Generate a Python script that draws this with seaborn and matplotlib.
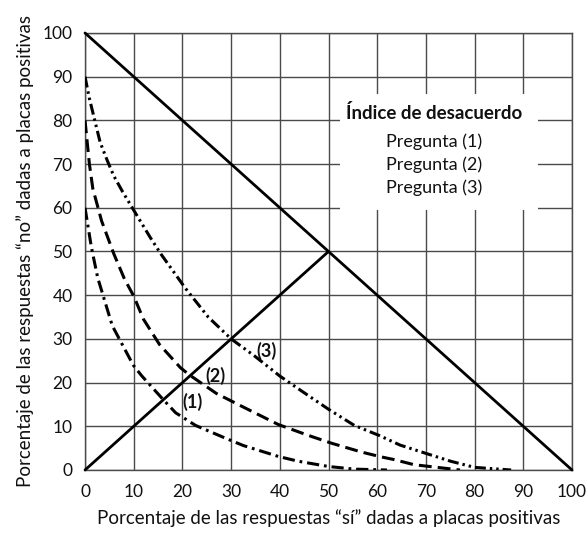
import matplotlib
matplotlib.use("Agg")
import matplotlib.pyplot as plt
import seaborn as sns
import pandas as pd
from matplotlib.patches import Rectangle

# ---- data ----
q1_x = [0, 1.3, 2.6, 3.8, 5.6, 9.9, 11.6, 15.9, 18.6, 22.7, 29, 32.5, 39.7, 43.8, 50, 55.3, 62]
q1_y = [60, 51, 44, 39.6, 33, 24, 21.6, 16.3, 13.1, 10.2, 7.2, 5.6, 3.1, 2.0, 0.8, 0.2, 0]

q2_x = [0, 0.9, 1.6, 3.4, 5.9, 8.1, 10, 12, 15.3, 19.6, 21.5, 27, 32.5, 39.7, 45.9, 50.7, 56.8, 60.8, 63.4, 67.6, 70, 77]
q2_y = [80, 70, 64.4, 57, 49.5, 43.7, 39.8, 34.5, 28.7, 23.4, 21.7, 17.5, 14.4, 10.4, 7.9, 6.1, 4.1, 3.0, 2.4, 1.2, 0.9, 0]

q3_x = [0, 0.9, 2, 3.1, 4.5, 5.9, 7.7, 9.7, 13.4, 15.6, 20.6, 25.3, 30, 34.8, 40, 45.1, 50, 55.3, 60.4, 64.7, 70, 75.1, 80, 87.5]
q3_y = [90, 85, 80, 75, 71, 67.3, 63.7, 60, 53.2, 49.4, 41.6, 35, 30, 26.1, 21.5, 17.6, 13.9, 10.2, 7.9, 5.7, 3.8, 2.0, 0.6, 0]

diag_x = [0, 100]
diag_y = [100, 0]
bis_x = [0, 50]
bis_y = [0, 50]

series_names = ["Pregunta (1)", "Pregunta (2)", "Pregunta (3)"]
curve_labels = ["(1)", "(2)", "(3)"]
curve_label_x = [22, 26.8, 37.3]
curve_label_y = [15.5, 21.5, 27.2]

ticks = list(range(0, 101, 10))
legend_title = "Índice de desacuerdo"
xlabel = "Porcentaje de las respuestas “sí” dadas a placas positivas"
ylabel = "Porcentaje de las respuestas “no” dadas a placas positivas"

df = pd.concat([
    pd.DataFrame({"x": q1_x, "y": q1_y, "serie": series_names[0]}),
    pd.DataFrame({"x": q2_x, "y": q2_y, "serie": series_names[1]}),
    pd.DataFrame({"x": q3_x, "y": q3_y, "serie": series_names[2]}),
], ignore_index=True)

sns.set_theme(style="white")
plt.rcParams["font.family"] = ["Lato", "DejaVu Sans"]

fig = plt.figure(figsize=(5.88, 5.38), dpi=100)
ax = fig.add_axes([0.1446, 0.1264, 0.8282, 0.8123])

grid_col = "#4a4a4a"
txt_col = "#111111"
ax.set_xlim(0, 100)
ax.set_ylim(0, 100)
ax.set_xticks(ticks)
ax.set_yticks(ticks)
ax.grid(True, color=grid_col, linewidth=1.0)
ax.set_axisbelow(True)
for s in ax.spines.values():
    s.set_color(grid_col)
    s.set_linewidth(1.0)

# white box behind the legend text
ax.add_patch(Rectangle((52.3, 59.5), 40.8, 26.5, facecolor="white",
                       edgecolor="none", zorder=1.5))

sns.lineplot(data=df, x="x", y="y", style="serie", color="black",
             dashes={series_names[0]: (4, 1.6, 0.9, 1.6),
                     series_names[1]: (4.2, 2.0),
                     series_names[2]: (3.6, 1.3, 0.8, 1.3, 0.8, 1.3)},
             linewidth=2.2, sort=False, legend=False, ax=ax, zorder=3)

sns.lineplot(x=diag_x, y=diag_y, color="black", linewidth=2.0, ax=ax,
             zorder=3, clip_on=False)
sns.lineplot(x=bis_x, y=bis_y, color="black", linewidth=2.0, ax=ax,
             zorder=3, clip_on=False)

for t, xx, yy in zip(curve_labels, curve_label_x, curve_label_y):
    ax.text(xx, yy, t, fontsize=13, fontweight="bold", ha="center",
            va="center", color=txt_col, zorder=4)

ax.text(71.7, 81.6, legend_title, fontsize=13.5, fontweight="bold",
        ha="center", va="center", color=txt_col, zorder=4)
for name, yy in zip(series_names, [75.1, 69.8, 64.5]):
    ax.text(71.7, yy, name, fontsize=13, ha="center", va="center",
            color=txt_col, zorder=4)

ax.tick_params(axis="both", length=0, labelsize=12.5, colors=txt_col)
ax.tick_params(axis="x", pad=10)
ax.tick_params(axis="y", pad=9)
ax.set_xlabel(xlabel, fontsize=13.5, color=txt_col, labelpad=7)
ax.set_ylabel(ylabel, fontsize=13.5, color=txt_col, labelpad=6)

fig.savefig("out.png", dpi=100)
